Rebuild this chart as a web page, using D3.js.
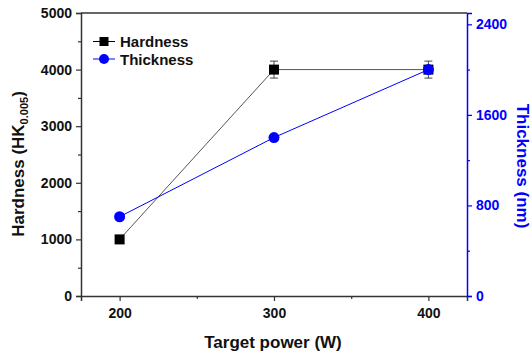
<!DOCTYPE html>
<html>
<head>
<meta charset="utf-8">
<script src="https://cdn.jsdelivr.net/npm/d3@7"></script>
<style>
  body { margin: 0; background: #fff; }
  text { font-family: "Liberation Sans", Arial, sans-serif; font-weight: bold; }
</style>
</head>
<body>
<div id="chart"></div>
<script>
// Data
const power = [200, 300, 400];
const hardness = [1000, 4000, 4000];
const hardnessErr = [0, 150, 150];
const thickness = [700, 1400, 2000];

const xTicks = [200, 300, 400];
const yLeftTicks = [0, 1000, 2000, 3000, 4000, 5000];
const yRightTicks = [0, 800, 1600, 2400];

const dimensions = { width: 532, height: 357, left: 81, right: 467, top: 13, bottom: 296 };

const svg = d3.select('#chart').append('svg')
    .attr('width', dimensions.width)
    .attr('height', dimensions.height);

// Scales
const x = d3.scaleLinear().domain([175, 425]).range([dimensions.left, dimensions.right]);
const yL = d3.scaleLinear().domain([0, 5000]).range([dimensions.bottom, dimensions.top]);
const yR = d3.scaleLinear().domain([0, 2500]).range([dimensions.bottom, dimensions.top]);

const axisColor = '#333';
const blue = '#0000ff';

// top frame line
svg.append('line')
    .attr('x1', dimensions.left).attr('x2', dimensions.right)
    .attr('y1', dimensions.top).attr('y2', dimensions.top)
    .attr('stroke', axisColor).attr('stroke-width', 1.5);

// Bottom axis
const xAxis = svg.append('g').attr('transform', `translate(0,${dimensions.bottom})`);
xAxis.call(d3.axisBottom(x).tickValues(xTicks).tickSize(5).tickPadding(7).tickFormat(d3.format('d')));
xAxis.append('g').call(d3.axisBottom(x).tickValues([250, 350]).tickSize(3).tickFormat(''));
xAxis.selectAll('.domain').attr('stroke', axisColor).attr('stroke-width', 1.5);
xAxis.selectAll('.tick line').attr('stroke', axisColor).attr('stroke-width', 1.2);
xAxis.selectAll('.tick text').attr('font-size', 14).attr('fill', '#111');
xAxis.selectAll('g g .domain').remove();

// Left axis
const yAxisL = svg.append('g').attr('transform', `translate(${dimensions.left},0)`);
yAxisL.call(d3.axisLeft(yL).tickValues(yLeftTicks).tickSize(5).tickPadding(4).tickFormat(d3.format('d')));
yAxisL.append('g').call(d3.axisLeft(yL).tickValues([500, 1500, 2500, 3500, 4500]).tickSize(3).tickFormat(''));
yAxisL.selectAll('.domain').attr('stroke', axisColor).attr('stroke-width', 1.5);
yAxisL.selectAll('.tick line').attr('stroke', axisColor).attr('stroke-width', 1.2);
yAxisL.selectAll('.tick text').attr('font-size', 14).attr('fill', '#111');
yAxisL.selectAll('g g .domain').remove();

// Right axis
const yAxisR = svg.append('g').attr('transform', `translate(${dimensions.right},0)`);
yAxisR.call(d3.axisRight(yR).tickValues(yRightTicks).tickSize(5).tickPadding(4).tickFormat(d3.format('d')));
yAxisR.append('g').call(d3.axisRight(yR).tickValues([400, 1200, 2000]).tickSize(3).tickFormat(''));
yAxisR.selectAll('.domain').attr('stroke', blue).attr('stroke-width', 1.5);
yAxisR.selectAll('.tick line').attr('stroke', blue).attr('stroke-width', 1.2);
yAxisR.selectAll('.tick text').attr('font-size', 14).attr('fill', blue);
yAxisR.selectAll('g g .domain').remove();

// Axis titles
svg.append('text')
    .attr('x', (dimensions.left + dimensions.right) / 2 - 1)
    .attr('y', 348)
    .attr('text-anchor', 'middle')
    .attr('font-size', 17)
    .attr('fill', '#111')
    .text('Target power (W)');

const leftTitle = svg.append('text')
    .attr('transform', 'translate(24,164) rotate(-90)')
    .attr('text-anchor', 'middle')
    .attr('font-size', 17)
    .attr('fill', '#111');
leftTitle.append('tspan').text('Hardness (HK');
leftTitle.append('tspan').attr('font-size', 11).attr('dy', 4).text('0.005');
leftTitle.append('tspan').attr('dy', -4).text(')');

svg.append('text')
    .attr('transform', 'translate(517,166) rotate(90)')
    .attr('text-anchor', 'middle')
    .attr('font-size', 17)
    .attr('fill', blue)
    .text('Thickness (nm)');

// Hardness series
const lineH = d3.line().x((d, i) => x(power[i])).y(d => yL(d));
svg.append('path')
    .datum(hardness)
    .attr('d', lineH)
    .attr('fill', 'none')
    .attr('stroke', '#555')
    .attr('stroke-width', 1);

// error bars
const err = svg.append('g').attr('stroke', '#444').attr('stroke-width', 1);
hardness.forEach((v, i) => {
    if (!hardnessErr[i]) return;
    const cx = x(power[i]);
    err.append('line').attr('x1', cx).attr('x2', cx).attr('y1', yL(v - hardnessErr[i])).attr('y2', yL(v + hardnessErr[i]));
    [v - hardnessErr[i], v + hardnessErr[i]].forEach(e => {
        err.append('line').attr('x1', cx - 4).attr('x2', cx + 4).attr('y1', yL(e)).attr('y2', yL(e));
    });
});

// Thickness series
const lineT = d3.line().x((d, i) => x(power[i])).y(d => yR(d));
svg.append('path')
    .datum(thickness)
    .attr('d', lineT)
    .attr('fill', 'none')
    .attr('stroke', blue)
    .attr('stroke-width', 1);

svg.append('g').selectAll('rect')
    .data(hardness)
    .join('rect')
    .attr('x', (d, i) => x(power[i]) - 5)
    .attr('y', d => yL(d) - 5)
    .attr('width', 10).attr('height', 10)
    .attr('fill', '#000');

svg.append('g').selectAll('circle')
    .data(thickness)
    .join('circle')
    .attr('cx', (d, i) => x(power[i]))
    .attr('cy', d => yR(d))
    .attr('r', 5.5)
    .attr('fill', blue);

// Legend
const legend = svg.append('g');
const legendItems = [
    { name: 'Hardness', color: '#000', shape: 'square', y: 41.5 },
    { name: 'Thickness', color: blue, shape: 'circle', y: 59 }
];
legendItems.forEach(item => {
    legend.append('line')
        .attr('x1', 93).attr('x2', 115).attr('y1', item.y).attr('y2', item.y)
        .attr('stroke', item.color).attr('stroke-width', 1);
    if (item.shape === 'square') {
        legend.append('rect').attr('x', 99.5).attr('y', item.y - 4.5).attr('width', 9).attr('height', 9).attr('fill', item.color);
    } else {
        legend.append('circle').attr('cx', 104).attr('cy', item.y).attr('r', 5).attr('fill', item.color);
    }
    legend.append('text')
        .attr('x', 120).attr('y', item.y + 5.5)
        .attr('font-size', 15)
        .attr('fill', '#111')
        .text(item.name);
});
</script>
</body>
</html>
